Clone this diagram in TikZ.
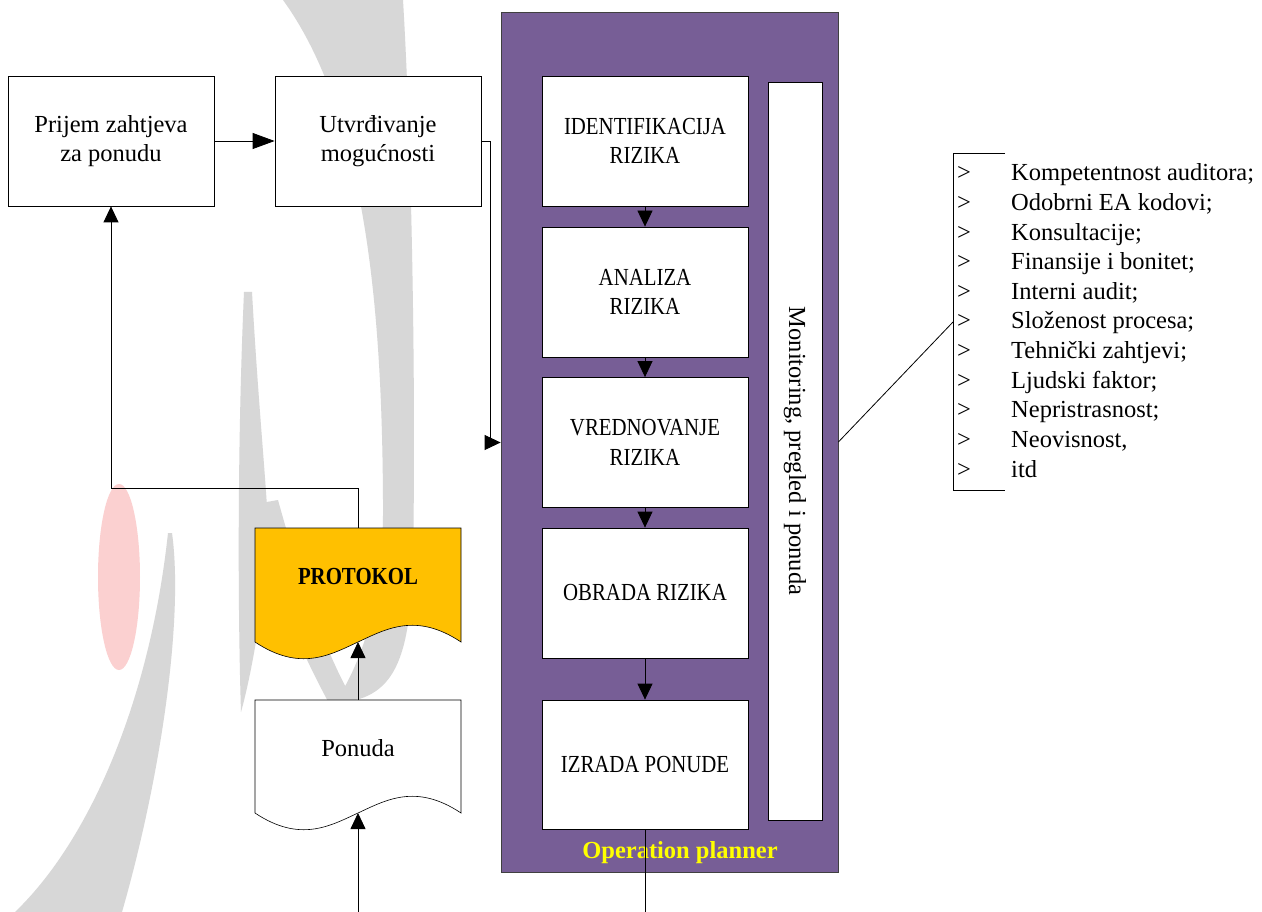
\documentclass[tikz,border=0pt]{standalone}
\usepackage{fontspec}
\setmainfont{Liberation Serif}
\newfontfamily\capsf[FakeStretch=0.85]{Liberation Serif}
\usetikzlibrary{arrows.meta,calc}
\definecolor{opurple}{RGB}{119,94,150}
\definecolor{wgray}{RGB}{215,215,215}
\definecolor{wpink}{RGB}{251,208,208}
\definecolor{protoy}{RGB}{255,192,0}
\definecolor{opyellow}{RGB}{255,255,0}
\begin{document}
\begin{tikzpicture}[x=1pt,y=-1pt,
  font=\fontsize{24.5}{29.5}\selectfont,
  box/.style={draw=black, line width=0.8pt, fill=white, minimum width=206pt, minimum height=130pt, align=center, inner sep=0pt},
  capsbox/.style={box, font=\capsf\fontsize{24.5}{29.5}\selectfont},
  conn/.style={line width=0.8pt, draw=black},
  arr/.style={conn, -{Triangle[length=16pt,width=15pt]}},
  bigarr/.style={conn, -{Triangle[length=22pt,width=16pt]}},
  listitem/.style={anchor=base west, inner sep=0pt},
]
\useasboundingbox (0,0) rectangle (1262,912);
\fill[white] (0,0) rectangle (1262,912);
% watermark
\fill[wgray] (283,0) -- (403,0) .. controls (412,150) and (416,400) .. (413,560)
  .. controls (410,660) and (395,700) .. (335,703)
  .. controls (370,650) and (384,580) .. (383,500)
  .. controls (382,330) and (370,120) .. (283,0) -- cycle;
\fill[wgray] (244,292) -- (252,292) .. controls (258,400) and (266,480) .. (268,525)
  .. controls (266,600) and (250,680) .. (241,712)
  .. controls (238,620) and (237,450) .. (244,292) -- cycle;
\fill[wgray] (250,505) -- (278,500) .. controls (300,580) and (325,650) .. (350,695)
  -- (330,705) .. controls (300,650) and (270,580) .. (250,505) -- cycle;
\fill[wgray] (168,533) -- (172,533) .. controls (184,620) and (160,780) .. (122,912)
  -- (15,912) .. controls (90,840) and (150,700) .. (168,533) -- cycle;
\fill[wpink] (119,577) ellipse [x radius=21pt, y radius=93pt];
% left boxes
\node[box] (prijem) at (111,141) {Prijem zahtjeva\\za ponudu};
\node[box] (utvr) at (378,141) {Utvrđivanje\\mogućnosti};
% planner
\node[draw=black!75, line width=0.8pt, fill=opurple, minimum width=337pt, minimum height=860pt, inner sep=0pt] (planner) at (669.5,442) {};
\node[capsbox] (ident) at (645,141) {IDENTIFIKACIJA\\RIZIKA};
\node[capsbox] (analiza) at (645,292) {ANALIZA\\RIZIKA};
\node[capsbox] (vred) at (645,442.5) {VREDNOVANJE\\RIZIKA};
\node[capsbox] (obrada) at (645,593) {OBRADA RIZIKA};
\node[capsbox, minimum height=129pt] (izrada) at (645,764.5) {IZRADA PONUDE};
\node[draw=black, line width=0.8pt, fill=white, minimum width=54pt, minimum height=738pt, inner sep=0pt] (mon) at (795,451) {};
\node[rotate=-90, inner sep=0pt] (montext) at (mon.center) {Monitoring, pregled i ponuda};
\node[anchor=base, text=opyellow, font=\bfseries\fontsize{24.5}{29.5}\selectfont, inner sep=0pt] (op) at (680,858) {Operation planner};
% documents
\coordinate (protoTop) at (358,528);
\coordinate (protoBot) at (358,642);
\fill[protoy, draw=black, line width=0.6pt] (255,528) -- (461,528) -- (461,642)
  .. controls (416,612) and (386,629) .. (358,642)
  .. controls (330,655) and (300,672) .. (255,642) -- cycle;
\node[anchor=base, inner sep=0pt, font=\capsf\bfseries\fontsize{24.5}{29.5}\selectfont] (proto) at (358,584) {PROTOKOL};
\coordinate (ponTop) at (358,700);
\coordinate (ponBot) at (358,813);
\fill[white, draw=black, line width=0.6pt] (255,700) -- (461,700) -- (461,813)
  .. controls (416,783) and (386,800) .. (358,813)
  .. controls (330,826) and (300,843) .. (255,813) -- cycle;
\node[anchor=base, inner sep=0pt] (ponuda) at (358,756) {Ponuda};
% connectors
\draw[bigarr] (prijem) -- (utvr);
\draw[arr] (utvr.east) -- ++(9,0) |- (planner.west |- vred);
\draw[arr] (ident) -- (analiza);
\draw[arr] (analiza) -- (vred);
\draw[arr] (vred) -- (obrada);
\draw[arr] (obrada) -- (izrada);
\coordinate (bottomR) at (645,912);
\draw[conn] (izrada.south) -- (bottomR);
\coordinate (bottomL) at (358,912);
\draw[arr] (bottomL) -- (ponBot);
\draw[arr] (ponTop) -- (protoBot);
\coordinate (turn) at (358,488);
\draw[arr] (protoTop) -- (turn) -| (prijem.south);
% list bracket
\coordinate (brk) at (953,322);
\draw[conn] (planner.east) -- (brk);
\coordinate (brkT) at (953,153);
\coordinate (brkB) at (953,490);
\draw[conn, line width=0.6pt] ($(brkT)+(52,0)$) -- (brkT) -- (brkB) -- ($(brkB)+(52,0)$);
\foreach \t [count=\i from 0] in {Kompetentnost auditora;, Odobrni EA kodovi;, Konsultacije;, Finansije i bonitet;, Interni audit;, Složenost procesa;, Tehnički zahtjevi;, Ljudski faktor;, Nepristrasnost;, {Neovisnost,}, itd}{
  \node[listitem] (gt\i) at (957,181+29.6*\i) {>};
  \node[listitem] (li\i) at (1011,181+29.6*\i) {\t};
}
\end{tikzpicture}
\end{document}
